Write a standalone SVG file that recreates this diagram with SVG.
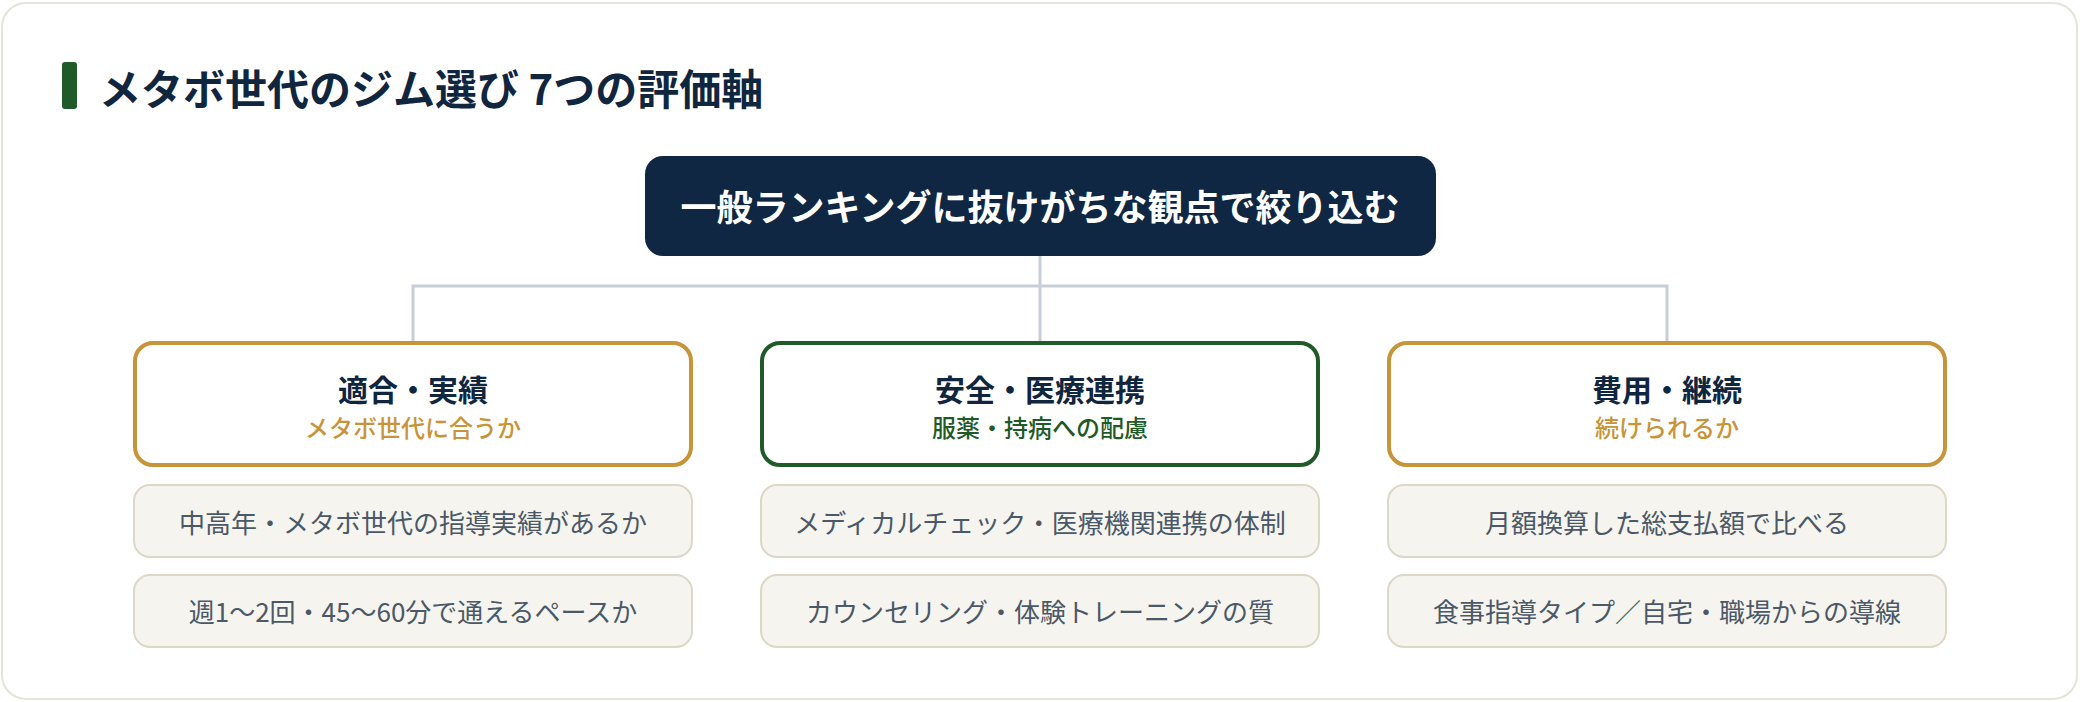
<svg xmlns="http://www.w3.org/2000/svg" width="2080" height="702" viewBox="0 0 2080 702">
<style>
text{font-family:"Noto Sans CJK JP","Noto Sans",sans-serif;text-anchor:middle}
.card{fill:#ffffff;stroke:#e6e3d8;stroke-width:2}
.h1{font-size:42px;font-weight:700;fill:#10263f;text-anchor:start}
.root{fill:#0f2742}
.roott{font-size:36px;font-weight:700;fill:#ffffff}
.cat{fill:#ffffff;stroke-width:4}
.gold{stroke:#c8943a}
.green{stroke:#1f5a28}
.catt{font-size:30px;font-weight:700;fill:#10263f}
.sub{font-size:24px;font-weight:500}
.subg{fill:#c8943a}
.subgr{fill:#1f5a28}
.item{fill:#f6f4ee;stroke:#dcd8c8;stroke-width:2}
.itemt{font-size:26px;fill:#4a5868}
.conn{fill:none;stroke:#c8ced8;stroke-width:3}
</style>
<rect class="card" x="2" y="3" width="2075" height="696" rx="24"/>
<g id="title">
<rect x="62" y="62" width="15" height="47" rx="3" fill="#1f5a28"/>
<text class="h1" x="99" y="105">メタボ世代のジム選び 7つの評価軸</text>
</g>
<g id="connectors">
<path class="conn" d="M1040 256 V286 M413 286 H1667 M413 284.5 V341 M1040 286 V341 M1667 284.5 V341"/>
</g>
<g id="root">
<rect class="root" x="645" y="156" width="791" height="100" rx="18"/>
<text class="roott" x="1040" y="221">一般ランキングに抜けがちな観点で絞り込む</text>
</g>
<g id="cat1">
<rect class="cat gold" x="135" y="343" width="556" height="122" rx="18"/>
<text class="catt" x="413" y="401">適合・実績</text>
<text class="sub subg" x="413" y="437">メタボ世代に合うか</text>
</g>
<g id="cat2">
<rect class="cat green" x="762" y="343" width="556" height="122" rx="18"/>
<text class="catt" x="1040" y="401">安全・医療連携</text>
<text class="sub subgr" x="1040" y="437">服薬・持病への配慮</text>
</g>
<g id="cat3">
<rect class="cat gold" x="1389" y="343" width="556" height="122" rx="18"/>
<text class="catt" x="1667" y="401">費用・継続</text>
<text class="sub subg" x="1667" y="437">続けられるか</text>
</g>
<g id="item1a">
<rect class="item" x="134" y="485" width="558" height="72" rx="16"/>
<text class="itemt" x="413" y="533">中高年・メタボ世代の指導実績があるか</text>
</g>
<g id="item1b">
<rect class="item" x="134" y="575" width="558" height="72" rx="16"/>
<text class="itemt" x="413" y="622">週1〜2回・45〜60分で通えるペースか</text>
</g>
<g id="item2a">
<rect class="item" x="761" y="485" width="558" height="72" rx="16"/>
<text class="itemt" x="1040" y="533">メディカルチェック・医療機関連携の体制</text>
</g>
<g id="item2b">
<rect class="item" x="761" y="575" width="558" height="72" rx="16"/>
<text class="itemt" x="1040" y="622">カウンセリング・体験トレーニングの質</text>
</g>
<g id="item3a">
<rect class="item" x="1388" y="485" width="558" height="72" rx="16"/>
<text class="itemt" x="1667" y="533">月額換算した総支払額で比べる</text>
</g>
<g id="item3b">
<rect class="item" x="1388" y="575" width="558" height="72" rx="16"/>
<text class="itemt" x="1667" y="622">食事指導タイプ／自宅・職場からの導線</text>
</g>
</svg>
